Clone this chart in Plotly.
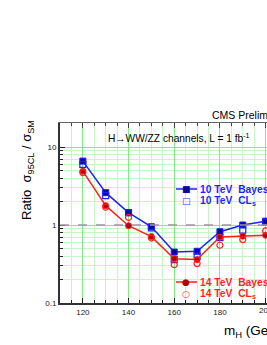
import plotly.graph_objects as go

mass = [120, 130, 140, 150, 160, 170, 180, 190, 200]
bayes_10 = [6.6, 2.6, 1.44, 0.95, 0.45, 0.46, 0.82, 1.0, 1.12]
cls_10 = [6.0, 2.38, 1.44, 0.92, 0.36, 0.40, 0.69, 0.86, 1.1]
bayes_14 = [4.9, 1.77, 0.98, 0.71, 0.37, 0.36, 0.70, 0.72, 0.74]
cls_14 = [4.7, 1.69, 1.25, 0.68, 0.31, 0.32, 0.55, 0.65, 0.84]
ytick_vals = [0.1, 1, 10]
ytick_text = ["0.1", "1", "10"]
xtick_vals = [120, 140, 160, 180, 200]

BLUE = "#1f1fff"
RED = "#ff1f1f"
FONT = "Liberation Sans, Arial, sans-serif"

fig = go.Figure()
fig.add_trace(go.Scatter(x=mass, y=bayes_10, mode="lines+markers",
                         line=dict(color=BLUE, width=1.5),
                         marker=dict(symbol="square", size=6, color="#0a0a90",
                                     line=dict(color=BLUE, width=1))))
fig.add_trace(go.Scatter(x=mass, y=cls_10, mode="markers",
                         marker=dict(symbol="square-open", size=6, color=BLUE,
                                     line=dict(width=1.2))))
fig.add_trace(go.Scatter(x=mass, y=bayes_14, mode="lines+markers",
                         line=dict(color=RED, width=1.5),
                         marker=dict(symbol="circle", size=6, color="#b00000",
                                     line=dict(color=RED, width=1))))
fig.add_trace(go.Scatter(x=mass, y=cls_14, mode="markers",
                         marker=dict(symbol="circle-open", size=6, color=RED,
                                     line=dict(width=1.2))))

xr = [110, 200.6]
fig.update_layout(
    width=267, height=345,
    margin=dict(l=60, r=0, t=123, b=42),
    paper_bgcolor="white", plot_bgcolor="white",
    showlegend=False,
    font=dict(family=FONT, color="black"),
    xaxis=dict(range=xr, tickvals=xtick_vals, ticks="inside", ticklen=5,
               tickcolor="#222", showline=True, linecolor="#333", linewidth=2,
               showgrid=True, gridcolor="#7cf07c", gridwidth=1,
               minor=dict(dtick=5, tick0=110, ticks="inside", ticklen=3,
                          tickcolor="#222", showgrid=True, gridcolor="#c6f5c6"),
               tickfont=dict(size=8, color="#222"), zeroline=False),
    xaxis2=dict(range=xr, overlaying="x", side="top", showline=True,
                linecolor="#666", linewidth=1, ticks="inside", ticklen=5,
                tickvals=xtick_vals, showticklabels=False, showgrid=False,
                minor=dict(dtick=5, tick0=110, ticks="inside", ticklen=3),
                zeroline=False),
    yaxis=dict(type="log", range=[-1, 1.308], tickvals=ytick_vals,
               ticktext=ytick_text, ticks="inside", ticklen=5, tickcolor="#222",
               showline=True, linecolor="#333", linewidth=2,
               showgrid=True, gridcolor="#7cf07c", gridwidth=1,
               minor=dict(dtick="D1", ticks="inside", ticklen=3,
                          tickcolor="#222", showgrid=True, gridcolor="#c6f5c6"),
               tickfont=dict(size=8, color="#222"), zeroline=False),
)
fig.add_trace(go.Scatter(x=[None], y=[None], xaxis="x2", showlegend=False))

fig.add_shape(type="line", xref="paper", x0=0, x1=1, yref="y", y0=1, y1=1,
              line=dict(color="#999", width=1.5, dash="dash"))

# last tick label, which plotly drops at the clipped right edge
fig.add_annotation(text=str(xtick_vals[-1]), x=xtick_vals[-1], xref="x",
                   y=-0.04, yref="paper", yanchor="middle", xanchor="center",
                   showarrow=False, font=dict(size=8, color="#222"))

ann = []
ann.append(dict(text="CMS Preliminary", x=210, y=345 - 115, xanchor="left",
                yanchor="middle", font=dict(size=10.5)))
ann.append(dict(text="H\u2192WW/ZZ channels, L = 1 fb<sup>-1</sup>", x=106,
                y=345 - 138, xanchor="left", yanchor="middle",
                font=dict(size=10.2)))
ann.append(dict(text="Ratio  \u03c3<sub>95CL</sub> / \u03c3<sub>SM</sub>",
                x=27, y=345 - 170, xanchor="center", yanchor="middle",
                textangle=-90, font=dict(size=13)))
ann.append(dict(text="m<sub>H</sub> (GeV/c<sup>2</sup>)", x=222, y=345 - 330,
                xanchor="left", yanchor="middle", font=dict(size=13.5)))
leg = [("<b>10 TeV  Bayes</b>", 189, BLUE, "\u25a0", "#0a0a90", True),
       ("<b>10 TeV  CL<sub>s</sub></b>", 201, BLUE, "\u25a1", BLUE, False),
       ("<b>14 TeV  Bayes</b>", 282, RED, "\u25cf", "#b00000", True),
       ("<b>14 TeV  CL<sub>s</sub></b>", 294, RED, "\u25cb", RED, False)]
for txt, yy, col, sym, scol, has_line in leg:
    ann.append(dict(text=txt, x=198, y=345 - yy, xanchor="left",
                    yanchor="middle", font=dict(size=10.3, color=col)))
    ann.append(dict(text=sym, x=186, y=345 - yy, xanchor="center",
                    yanchor="middle", font=dict(size=9, color=scol,
                                                family="DejaVu Sans")))
    if has_line:
        fig.add_shape(type="line", xref="paper", yref="paper",
                      x0=(176 - 60) / 207, x1=(197 - 60) / 207,
                      y0=(303 - yy) / 180, y1=(303 - yy) / 180,
                      line=dict(color=col, width=1.5), layer="above")
for a in ann:
    a.update(xref="paper", yref="paper", showarrow=False)
    a["x"] = (a["x"] - 60) / 207
    a["y"] = (a["y"] - 42) / 180
    fig.add_annotation(**a)

fig.write_html("out.html", config={"displayModeBar": False},
               post_script="document.body.style.margin='0';"
                           "document.body.style.overflow='hidden';")
